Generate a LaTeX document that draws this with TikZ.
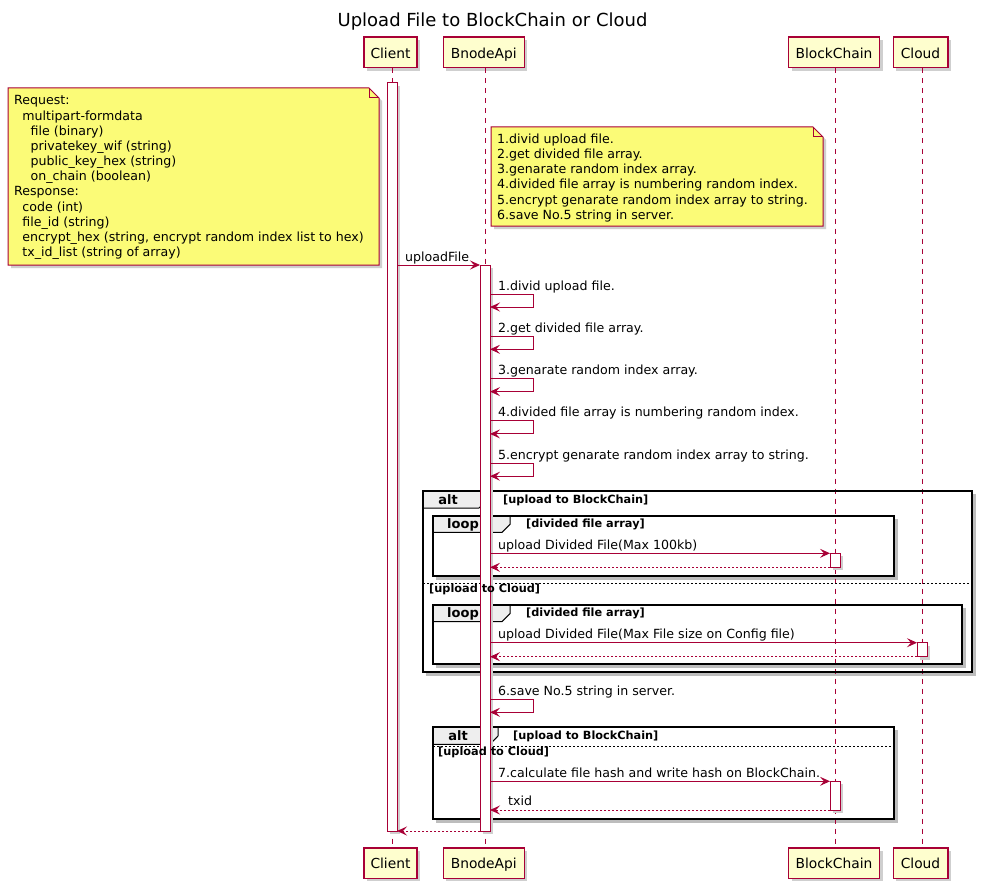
\documentclass[tikz,border=0pt]{standalone}
\usepackage{fontspec}
\setmainfont{DejaVu Sans}
\usetikzlibrary{arrows.meta,shadows}
\definecolor{pred}{HTML}{A80036}
\definecolor{pbox}{HTML}{FEFECE}
\definecolor{pnote}{HTML}{FBFB77}
\definecolor{ptab}{HTML}{EEEEEE}
\definecolor{pshad}{HTML}{BDBDBD}
\definecolor{pshadl}{HTML}{CFCFCF}
\tikzset{
  partbox/.style={draw=pred, fill=pbox, line width=1.5pt, minimum height=30.5pt, inner sep=0pt,
     font=\fontsize{13.8}{16}\selectfont, text height=11.4pt, text depth=0pt,
     drop shadow={shadow xshift=3pt, shadow yshift=-3pt, fill=pshadl, opacity=1}},
  msgtxt/.style={font=\fontsize{12.6}{15}\selectfont, anchor=base west, inner sep=0pt},
  notetxt/.style={font=\fontsize{12.6}{15}\selectfont, anchor=base west, inner sep=0pt},
  notebox/.style={draw=pred, fill=pnote, line width=1pt},
  notefold/.style={draw=pred, line width=1pt},
  shadowfill/.style={fill=pshad, draw=none},
  lshadow/.style={fill=pshadl, draw=none},
  lifeline/.style={draw=pred, line width=1pt, dash pattern=on 5pt off 5pt},
  actbar/.style={draw=pred, fill=white, line width=1pt},
  msgline/.style={draw=pred, line width=1pt, -{Stealth[length=10pt,width=9pt,inset=4pt]}},
  retline/.style={msgline, dash pattern=on 2pt off 2pt},
  framebox/.style={draw=black, line width=2pt},
  tabshape/.style={fill=ptab, draw=black, line width=1pt},
  framekw/.style={font=\fontsize{13}{15}\selectfont\bfseries, anchor=base, inner sep=0pt},
  guardtxt/.style={font=\fontsize{11.3}{13}\selectfont\bfseries, anchor=base west, inner sep=0pt},
  sepline/.style={draw=black, line width=1pt, dash pattern=on 2pt off 2pt},
}
\begin{document}
\begin{tikzpicture}[x=1pt,y=-1pt]
\useasboundingbox[fill=white] (0,0) rectangle (982,888);

% title
\node[font=\fontsize{18}{21}\selectfont, anchor=base, inner sep=0pt] (title) at (492.5,26.7) {Upload File to BlockChain or Cloud};

% participants (top)
\node[partbox, minimum width=53pt] (pC) at (390.5,52.5) {Client};
\node[partbox, minimum width=81pt] (pB) at (483.75,52.5) {BnodeApi};
\node[partbox, minimum width=91pt] (pK) at (834,52.5) {BlockChain};
\node[partbox, minimum width=54.5pt] (pD) at (920.5,52.5) {Cloud};
% participants (bottom)
\node[partbox, minimum width=53pt] (qC) at (390.5,863) {Client};
\node[partbox, minimum width=81pt] (qB) at (483.75,863) {BnodeApi};
\node[partbox, minimum width=91pt] (qK) at (834,863) {BlockChain};
\node[partbox, minimum width=54.5pt] (qD) at (920.5,863) {Cloud};

% frame shadows and fills
\fill[shadowfill] (426,494) rectangle (976,676);
\fill[white] (423,491) rectangle (972,672);
\fill[shadowfill] (436.3,518.7) rectangle (898,579.7);
\fill[white] (433.3,515.7) rectangle (894,575.7);
\fill[shadowfill] (436.3,608) rectangle (966,667.7);
\fill[white] (433.3,605) rectangle (962,663.7);
\fill[shadowfill] (436,730) rectangle (898,822.7);
\fill[white] (433,727) rectangle (894,818.7);

% lifelines
\draw[lifeline] ([xshift=1.5pt]pC.south) -- ([xshift=1.5pt]qC.north);
\draw[lifeline] ([xshift=1.25pt]pB.south) -- ([xshift=1.25pt]qB.north);
\draw[lifeline] ([xshift=1.3pt]pK.south) -- ([xshift=1.3pt]qK.north);
\draw[lifeline] ([xshift=1.8pt]pD.south) -- ([xshift=1.8pt]qD.north);

% notes
\fill[lshadow] (11,91) -- (372,91) -- (382,101) -- (382,268) -- (11,268) -- cycle;
\filldraw[notebox] (8,88) -- (369,88) -- (379,98) -- (379,265) -- (8,265) -- cycle;
\draw[notefold] (369,88) -- (369,98) -- (379,98);
\foreach \ind/\txt [count=\i from 0] in {
  0/Request:,
  2/multipart-formdata,
  4/file (binary),
  4/privatekey\_wif (string),
  4/public\_key\_hex (string),
  4/on\_chain (boolean),
  0/Response:,
  2/code (int),
  2/file\_id (string),
  2/{encrypt\_hex (string, encrypt random index list to hex)},
  2/tx\_id\_list (string of array)}
  \node[notetxt] (na\i) at ({14+4.13*\ind},{105+15.15*\i}) {\txt};

\fill[lshadow] (494,130) -- (816,130) -- (826,140) -- (826,229) -- (494,229) -- cycle;
\filldraw[notebox] (491,127) -- (813,127) -- (823,137) -- (823,226) -- (491,226) -- cycle;
\draw[notefold] (813,127) -- (813,137) -- (823,137);
\foreach \txt [count=\i from 0] in {
  1.divid upload file.,
  2.get divided file array.,
  3.genarate random index array.,
  4.divided file array is numbering random index.,
  5.encrypt genarate random index array to string.,
  6.save No.5 string in server.}
  \node[notetxt] (nb\i) at (497,{143.3+15.2*\i}) {\txt};

% frames: alt 1
\filldraw[tabshape] (423,491) -- (487,491) -- (487,500) -- (479,508) -- (423,508) -- cycle;
\draw[framebox] (423,491) rectangle (972,672);
\node[framekw] (alt1) at (448,504) {alt};
\node[guardtxt] (g1) at (503,503) {[upload to BlockChain]};
\draw[sepline] (423,583.3) -- (972,583.3);
% loop 1
\filldraw[tabshape] (433.3,515.7) -- (510,515.7) -- (510,524.3) -- (502,532.3) -- (433.3,532.3) -- cycle;
\draw[framebox] (433.3,515.7) rectangle (894,575.7);
\node[framekw] (lp1) at (463,528.5) {loop};
\node[guardtxt] (g3) at (526,527.5) {[divided file array]};
% loop 2
\filldraw[tabshape] (433.3,605) -- (510,605) -- (510,613.6) -- (502,621.6) -- (433.3,621.6) -- cycle;
\draw[framebox] (433.3,605) rectangle (962,663.7);
\node[framekw] (lp2) at (463,617.8) {loop};
\node[guardtxt] (g4) at (526,616.8) {[divided file array]};
% alt 2
\filldraw[tabshape] (433,727) -- (498,727) -- (498,736) -- (490,744.3) -- (433,744.3) -- cycle;
\draw[framebox] (433,727) rectangle (894,818.7);
\node[framekw] (alt2) at (458,740.5) {alt};
\node[guardtxt] (g5) at (513,739.5) {[upload to BlockChain]};
\draw[sepline] (433,746) -- (894,746);

% activation bars
\fill[lshadow] (390,86) rectangle (400,834);
\draw[actbar] (387,83) rectangle (397,831);
\fill[lshadow] (483,268) rectangle (493,834);
\draw[actbar] (480,265) rectangle (490,831);
\fill[lshadow] (833,556.3) rectangle (843,570.3);
\draw[actbar] (830,553.3) rectangle (840,567.3);
\fill[lshadow] (920,645.7) rectangle (930,659.7);
\draw[actbar] (917,642.7) rectangle (927,656.7);
\fill[lshadow] (833,784.3) rectangle (843,813);
\draw[actbar] (830,781.3) rectangle (840,810);

% else guards (drawn over the activation bar)
\node[guardtxt] (g2) at (429,592.5) {[upload to Cloud]};
\node[guardtxt] (g6) at (438,755.5) {[upload to Cloud]};

% message end points
\coordinate (cOut) at (397,265);
\coordinate (bIn) at (480,265);
\coordinate (cBack) at (397,831);
\coordinate (bBack) at (480,831);

% uploadFile
\draw[msgline] (cOut) -- (bIn);
\node[msgtxt] (lu) at (405,261.5) {uploadFile};

% self messages
\foreach \t/\txt [count=\i] in {
  294/1.divid upload file.,
  336.3/2.get divided file array.,
  378.6/3.genarate random index array.,
  420.9/4.divided file array is numbering random index.,
  463.2/5.encrypt genarate random index array to string.,
  699.3/6.save No.5 string in server.}
{
  \coordinate (sa\i) at (490,\t);
  \coordinate (sb\i) at (490,\t+13);
  \draw[msgline] (sa\i) -- ++(43,0) -- ++(0,13) -- (sb\i);
  \node[msgtxt] (sl\i) at (498,\t-4) {\txt};
}

% loop 1 messages
\coordinate (u1s) at (490,553.3);
\coordinate (u1e) at (830,553.3);
\coordinate (r1s) at (830,567.3);
\coordinate (r1e) at (490,567.3);
\draw[msgline] (u1s) -- (u1e);
\node[msgtxt] (lu1) at (498,549.3) {upload Divided File(Max 100kb)};
\draw[retline] (r1s) -- (r1e);

% loop 2 messages
\coordinate (u2s) at (490,642.7);
\coordinate (u2e) at (917,642.7);
\coordinate (r2s) at (917,656.7);
\coordinate (r2e) at (490,656.7);
\draw[msgline] (u2s) -- (u2e);
\node[msgtxt] (lu2) at (498,638.7) {upload Divided File(Max File size on Config file)};
\draw[retline] (r2s) -- (r2e);

% alt 2 messages
\coordinate (h1s) at (490,781.3);
\coordinate (h1e) at (830,781.3);
\coordinate (t1s) at (830,810);
\coordinate (t1e) at (490,810);
\draw[msgline] (h1s) -- (h1e);
\node[msgtxt] (lh1) at (498,777.3) {7.calculate file hash and write hash on BlockChain.};
\draw[retline] (t1s) -- (t1e);
\node[msgtxt] (lt1) at (508,805) {txid};

% final return
\draw[retline] (bBack) -- (cBack);
\end{tikzpicture}
\end{document}
